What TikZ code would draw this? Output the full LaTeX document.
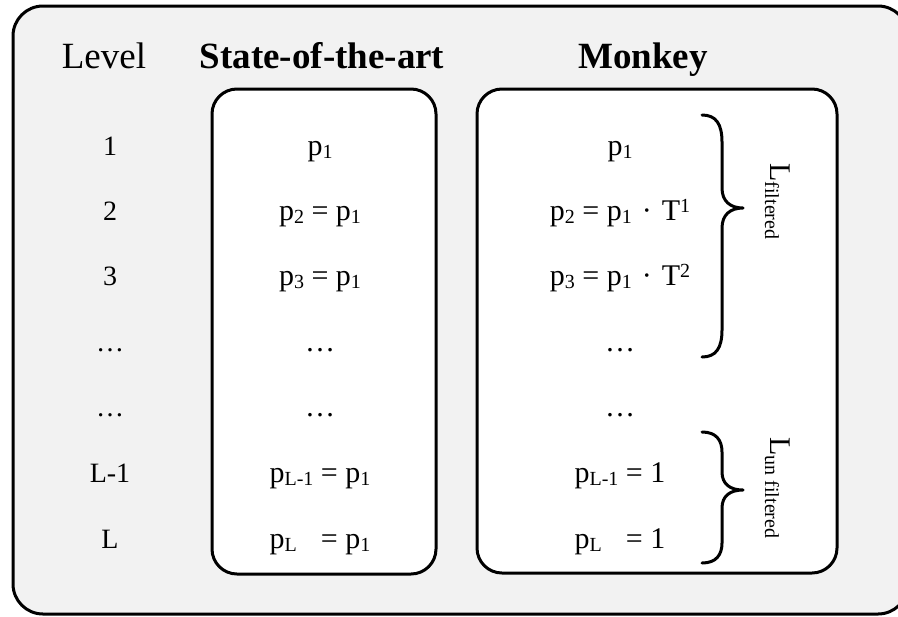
\documentclass[tikz,border=0pt]{standalone}
\usepackage{fontspec}
\setmainfont{Liberation Serif}

% index helpers for the formulas
\newcommand\lowidx[1]{\raisebox{-1.5pt}{\fontsize{10}{10}\selectfont #1}}
\newcommand\upidx[1]{\raisebox{4pt}{\fontsize{10}{10}\selectfont #1}}
\newcommand\lablow[1]{\raisebox{-2.5pt}{\fontsize{10}{10}\selectfont #1}}
\newcommand\gapdot{\hspace{5pt}·\hspace{5pt}}

\definecolor{panel}{HTML}{F2F2F2}

\begin{document}
\begin{tikzpicture}[x=0.5pt,y=-0.5pt,
  frame/.style={draw=black, line width=1.5pt},
  hdr/.style={anchor=base, inner sep=0pt, font=\fontsize{18.5}{20}\selectfont},
  lvl/.style={anchor=base, inner sep=0pt, font=\fontsize{14}{16}\selectfont},
  cell/.style={anchor=base, inner sep=0pt, font=\fontsize{15}{17}\selectfont},
  brace/.style={draw=black, line width=1.5pt, line cap=round, line join=round},
  blabel/.style={rotate=-90, anchor=base west, inner sep=0pt, font=\fontsize{15}{17}\selectfont}]

\useasboundingbox (0,0) rectangle (898,616);

% outer panel, running past the right edge of the page
\begin{scope}
  \clip (0,0) rectangle (898,616);
  \draw[frame, fill=panel, rounded corners=15pt] (13,6) rectangle (908,614);
\end{scope}

% column boxes
\draw[frame, fill=white, rounded corners=12.5pt] (212,89) rectangle (436,574);
\draw[frame, fill=white, rounded corners=12.5pt] (477,89) rectangle (837,573);

% headers
\node[hdr] (hlevel) at (104,68) {Level};
\node[hdr] (hstate) at (322,68) {\textbf{State-of-the-art}};
\node[hdr] (hmonkey) at (643,68) {\textbf{Monkey}};

% level column
\node[lvl] (l1) at (110,155) {1};
\node[lvl] (l2) at (110,220) {2};
\node[lvl] (l3) at (110,285) {3};
\node[lvl] (l4) at (110,351) {…};
\node[lvl] (l5) at (110,416) {…};
\node[lvl] (l6) at (110,482) {L-1};
\node[lvl] (l7) at (110,548) {L};

% state-of-the-art column
\node[cell] (s1) at (320,155) {p\lowidx{1}};
\node[cell] (s2) at (320,220) {p\lowidx{2} = p\lowidx{1}};
\node[cell] (s3) at (320,285) {p\lowidx{3} = p\lowidx{1}};
\node[cell] (s4) at (320,351) {…};
\node[cell] (s5) at (320,416) {…};
\node[cell] (s6) at (320,482) {p\lowidx{L-1} = p\lowidx{1}};
\node[cell] (s7) at (320,548) {\rlap{p\lowidx{L}}\phantom{p\lowidx{L-1}} = p\lowidx{1}};

% monkey column
\node[cell] (m1) at (620,155) {p\lowidx{1}};
\node[cell] (m2) at (620,220) {p\lowidx{2} = p\lowidx{1}\gapdot T\upidx{1}};
\node[cell] (m3) at (620,285) {p\lowidx{3} = p\lowidx{1}\gapdot T\upidx{2}};
\node[cell] (m4) at (620,351) {…};
\node[cell] (m5) at (620,416) {…};
\node[cell] (m6) at (620,482) {p\lowidx{L-1} = 1};
\node[cell] (m7) at (620,548) {\rlap{p\lowidx{L}}\phantom{p\lowidx{L-1}} = 1};

% braces
\draw[brace] (702,115) .. controls (716,115) and (722,124) .. (722,142)
  -- (722,188) .. controls (722,201) and (730,208) .. (743,208)
  .. controls (730,208) and (722,215) .. (722,228)
  -- (722,330) .. controls (722,348) and (716,357) .. (702,357);
\draw[brace] (702,432) .. controls (716,432) and (722,440) .. (722,452)
  -- (722,472) .. controls (722,484) and (730,490) .. (743,490)
  .. controls (730,490) and (722,496) .. (722,508)
  -- (722,543) .. controls (722,555) and (716,563) .. (702,563);

% brace labels
\node[blabel] (lfilt) at (770,163) {L\lablow{filtered}};
\node[blabel] (lunfilt) at (770,437) {L\lablow{un filtered}};
\end{tikzpicture}
\end{document}
